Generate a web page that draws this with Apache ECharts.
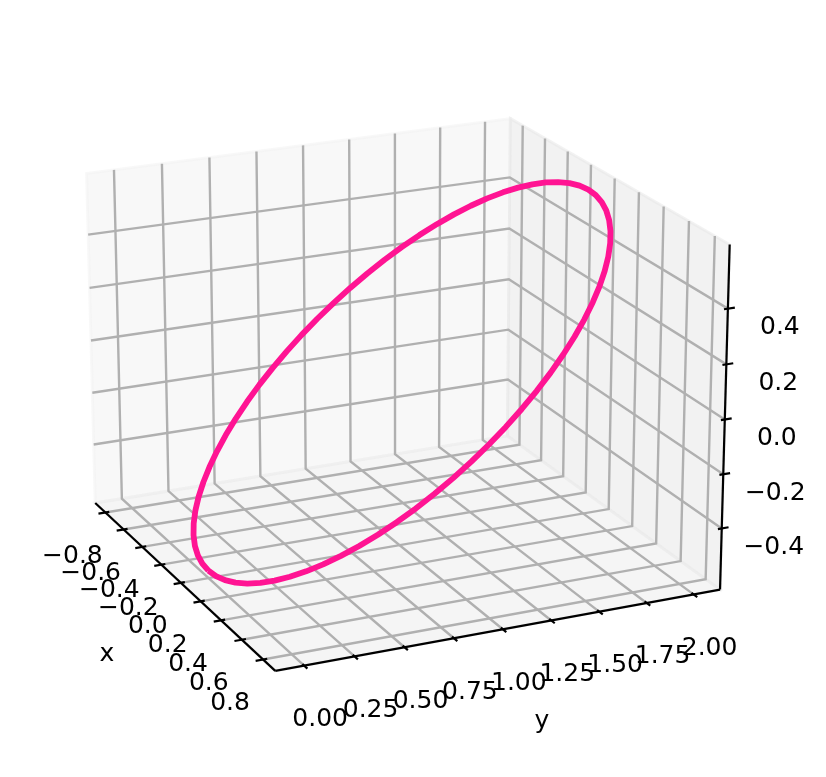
<!DOCTYPE html>
<html><head><meta charset="utf-8">
<style>html,body{margin:0;padding:0;background:#fff}#c{width:826px;height:777px}</style>
<script src="https://cdn.jsdelivr.net/npm/echarts@6/dist/echarts.min.js"></script>
</head><body><div id="c"></div>
<script>
const xTicks=[-0.8,-0.6,-0.4,-0.2,0,0.2,0.4,0.6,0.8];
const yTicks=[0,0.25,0.5,0.75,1,1.25,1.5,1.75,2];
const zTicks=[-0.4,-0.2,0,0.2,0.4];
const xTickLabels=['\u22120.8','\u22120.6','\u22120.4','\u22120.2','0.0','0.2','0.4','0.6','0.8'];
const yTickLabels=['0.00','0.25','0.50','0.75','1.00','1.25','1.50','1.75','2.00'];
const zTickLabels=['\u22120.4','\u22120.2','0.0','0.2','0.4'];
const curveX=[0,.0683,.1361,.2029,.2681,.3313,.392,.4497,.5039,.5544,.6005,.6422,.6789,.7105,.7368,.7572,.772,.7811,.784,.7811,.772,.7572,.7368,.7105,.6789,.6422,.6005,.5544,.5039,.4497,.392,.3313,.2681,.2029,.1361,.0683,0,-.0683,-.1361,-.2029,-.2681,-.3313,-.392,-.4497,-.5039,-.5544,-.6005,-.6422,-.6789,-.7105,-.7368,-.7572,-.772,-.7811,-.784,-.7811,-.772,-.7572,-.7368,-.7105,-.6789,-.6422,-.6005,-.5544,-.5039,-.4497,-.392,-.3313,-.2681,-.2029,-.1361,-.0683,0];
const curveY=[0,.0038,.0152,.0341,.0603,.0937,.134,.1808,.234,.2929,.3572,.4264,.5,.5774,.658,.7412,.8264,.9128,1,1.0872,1.1736,1.2588,1.342,1.4226,1.5,1.5736,1.6428,1.7071,1.766,1.8192,1.866,1.9063,1.9397,1.9659,1.9848,1.9962,2,1.9962,1.9848,1.9659,1.9397,1.9063,1.866,1.8192,1.766,1.7071,1.6428,1.5736,1.5,1.4226,1.342,1.2588,1.1736,1.0872,1,.9128,.8264,.7412,.658,.5774,.5,.4264,.3572,.2929,.234,.1808,.134,.0937,.0603,.0341,.0152,.0038,0];
const curveZ=[-.6,-.5977,-.5909,-.5795,-.5638,-.5438,-.5196,-.4915,-.4596,-.4243,-.3857,-.3441,-.3,-.2536,-.2052,-.1553,-.1042,-.0523,0,.0523,.1042,.1553,.2052,.2536,.3,.3441,.3857,.4243,.4596,.4915,.5196,.5438,.5638,.5795,.5909,.5977,.6,.5977,.5909,.5795,.5638,.5438,.5196,.4915,.4596,.4243,.3857,.3441,.3,.2536,.2052,.1553,.1042,.0523,0,-.0523,-.1042,-.1553,-.2052,-.2536,-.3,-.3441,-.3857,-.4243,-.4596,-.4915,-.5196,-.5438,-.5638,-.5795,-.5909,-.5977,-.6];
const xLim=[-0.913,0.913], yLim=[-0.142,2.142], zLim=[-0.628,0.628];

// view
const elev=19.7*Math.PI/180, azim=-24.7*Math.PI/180, dist=10, box=[1.143,1.143,0.857];
const S=4178, CX=399.5, CY=379;
const w=[Math.cos(elev)*Math.cos(azim),Math.cos(elev)*Math.sin(azim),Math.sin(elev)];
const u=[-Math.sin(azim),Math.cos(azim),0];
const v=[w[1]*u[2]-w[2]*u[1],w[2]*u[0]-w[0]*u[2],w[0]*u[1]-w[1]*u[0]];
function P(x,y,z){
  const p=[((x-xLim[0])/(xLim[1]-xLim[0])-.5)*box[0],((y-yLim[0])/(yLim[1]-yLim[0])-.5)*box[1],((z-zLim[0])/(zLim[1]-zLim[0])-.5)*box[2]];
  const dot=a=>a[0]*p[0]+a[1]*p[1]+a[2]*p[2];
  const k=S/(dist-dot(w));
  return [CX+k*dot(u),CY-k*dot(v)];
}
const [x0,x1]=xLim,[y0,y1]=yLim,[z0,z1]=zLim;
const panes=[
 {pts:[[x0,y0,z0],[x0,y1,z0],[x0,y1,z1],[x0,y0,z1]],c:'rgba(242,242,242,0.5)'},
 {pts:[[x0,y1,z0],[x1,y1,z0],[x1,y1,z1],[x0,y1,z1]],c:'rgba(230,230,230,0.5)'},
 {pts:[[x0,y0,z0],[x1,y0,z0],[x1,y1,z0],[x0,y1,z0]],c:'rgba(236,236,236,0.5)'}
];
const series=[];
series.push({type:'custom',silent:true,animation:false,z:1,clip:false,
  data:panes.map((_,i)=>[i,0]),encode:{x:0,y:1},
  renderItem:(p,api)=>{const q=panes[api.value(0)];
    return {type:'polygon',shape:{points:q.pts.map(a=>api.coord(P(...a)))},style:{fill:q.c,stroke:q.c,lineWidth:2.8}};}
});
function line(pts,color,width,z){series.push({type:'line',data:pts.map(a=>P(...a)),symbol:'none',silent:true,animation:false,z:z,clip:false,
  lineStyle:{color:color,width:width,cap:'butt',join:'miter'}});}
const gc='#b0b0b0',gw=2.4;
xTicks.forEach(t=>line([[t,y0,z0],[t,y1,z0],[t,y1,z1]],gc,gw,2));
yTicks.forEach(t=>line([[x1,t,z0],[x0,t,z0],[x0,t,z1]],gc,gw,2));
zTicks.forEach(t=>line([[x0,y0,t],[x0,y1,t],[x1,y1,t]],gc,gw,2));
const k='#000',kw=2.2;
line([[x0,y0,z0],[x1,y0,z0]],k,kw,3);
line([[x1,y0,z0],[x1,y1,z0]],k,kw,3);
line([[x1,y1,z0],[x1,y1,z1]],k,kw,3);
const ty=(y1-y0), tx=(x1-x0);
xTicks.forEach(t=>line([[t,y0-ty*.016,z0],[t,y0+ty*.009,z0]],k,kw,3));
yTicks.forEach(t=>line([[x1+tx*.016,t,z0],[x1-tx*.009,t,z0]],k,kw,3));
zTicks.forEach(t=>line([[x1,y1+ty*.016,t],[x1,y1-ty*.009,t]],k,kw,3));
series.push({type:'line',data:curveX.map((a,i)=>P(a,curveY[i],curveZ[i])),symbol:'none',silent:true,animation:false,z:5,
  lineStyle:{color:'#ff1493',width:5.8,join:'round'}});
function labels(items){series.push({type:'scatter',symbolSize:1,itemStyle:{opacity:0},silent:true,animation:false,z:6,clip:false,
  label:{show:true,position:'inside',color:'#000',fontFamily:'DejaVu Sans',fontSize:25},
  data:items.map(a=>({value:[a.p[0]+a.d[0],a.p[1]+a.d[1]],label:{show:true,formatter:a.t,position:'inside',align:'center',verticalAlign:'middle',fontFamily:'DejaVu Sans',fontSize:25,color:'#000',opacity:1}}))});}
labels([
 ...xTicks.map((t,i)=>({p:P(t,y0,z0),d:[-33,44],t:xTickLabels[i]})),
 ...yTicks.map((t,i)=>({p:P(x1,t,z0),d:[16,54],t:yTickLabels[i]})),
 ...zTicks.map((t,i)=>({p:P(x1,y1,t),d:[52,19],t:zTickLabels[i]})),
 {p:P(0,y0,z0),d:[-74,72],t:'x'},
 {p:P(x1,1,z0),d:[39,92],t:'y'}
]);
const chart=echarts.init(document.getElementById('c'),null,{renderer:'canvas'});
chart.setOption({animation:false,backgroundColor:'#fff',
 grid:{left:0,right:0,top:0,bottom:0},
 xAxis:{type:'value',min:0,max:826,show:false},
 yAxis:{type:'value',min:0,max:777,inverse:true,show:false},
 series:series});
</script></body></html>
